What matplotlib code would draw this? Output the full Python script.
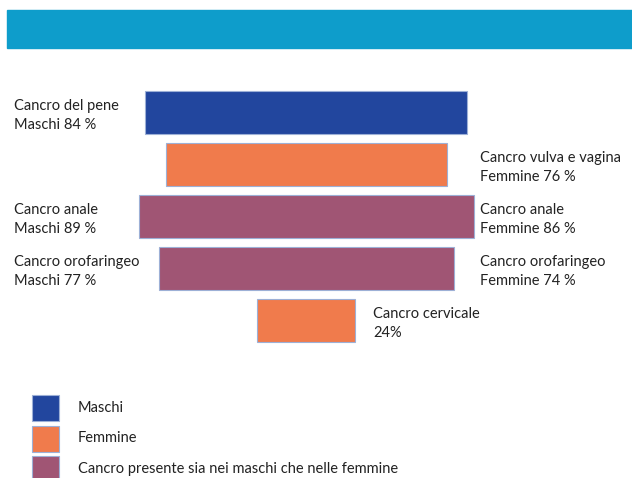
import matplotlib
matplotlib.use("Agg")
import matplotlib.pyplot as plt
from matplotlib.patches import Rectangle

plt.rcParams['font.family'] = ['Lato', 'DejaVu Sans']

# Data
bar_widths = [84, 73.5, 87.5, 77, 25.5]          # bar lengths (percent scale)
bar_groups = ["Maschi", "Femmine", "Entrambi", "Entrambi", "Femmine"]
left_labels = ["Cancro del pene\nMaschi 84 %", "", "Cancro anale\nMaschi 89 %",
               "Cancro orofaringeo\nMaschi 77 %", ""]
right_labels = ["", "Cancro vulva e vagina\nFemmine 76 %", "Cancro anale\nFemmine 86 %",
                "Cancro orofaringeo\nFemmine 74 %", "Cancro cervicale\n24%"]
legend_keys = ["Maschi", "Femmine", "Entrambi"]
legend_labels = ["Maschi", "Femmine", "Cancro presente sia nei maschi che nelle femmine"]

colors = {"Maschi": "#22469E", "Femmine": "#F07B4C", "Entrambi": "#A05574"}
edge = "#9DB0D6"
text_color = "#222222"

W, H = 632, 478
fig = plt.figure(figsize=(W / 100, H / 100), dpi=100)

# Banner
fig.patches.append(Rectangle((7 / W, 1 - 48 / H), 1 - 7 / W, 38 / H,
                             transform=fig.transFigure, color="#0E9DCB", zorder=0))

ax = fig.add_axes([0, 0, 1, 1])
ax.set_axis_off()
px_per_unit = 3.83
center_px = 306.3
ax.set_xlim(-center_px / px_per_unit, (W - center_px) / px_per_unit)
row0, pitch = 112.5, 52.0
ax.set_ylim((H - row0) / pitch, -row0 / pitch)

ys = list(range(len(bar_widths)))
ax.barh(ys, bar_widths, left=[-w / 2 for w in bar_widths], height=0.84,
        color=[colors[g] for g in bar_groups], edgecolor=edge, linewidth=0.8)

fs = 10.5
left_x = (14 - center_px) / px_per_unit
right_x = (480 - center_px) / px_per_unit
for y, w, lt, rt in zip(ys, bar_widths, left_labels, right_labels):
    if lt:
        ax.text(left_x, y + 0.06, lt, ha="left", va="center", fontsize=fs,
                color=text_color, linespacing=1.5)
    if rt:
        rx = right_x if w > 50 else w / 2 + 18 / px_per_unit
        ax.text(rx, y + 0.06, rt, ha="left", va="center", fontsize=fs,
                color=text_color, linespacing=1.5)

# Legend (drawn manually to match the reference layout)
leg_top = [395, 426, 456]
for top, key, lab in zip(leg_top, legend_keys, legend_labels):
    fig.patches.append(Rectangle((32 / W, 1 - (top + 26) / H), 27 / W, 26 / H,
                                 transform=fig.transFigure, facecolor=colors[key],
                                 edgecolor=edge, linewidth=0.8))
    fig.text(78 / W, 1 - (top + 12.5) / H, lab, ha="left", va="center",
             fontsize=10.5, color=text_color)

fig.savefig("out.png", dpi=100)
